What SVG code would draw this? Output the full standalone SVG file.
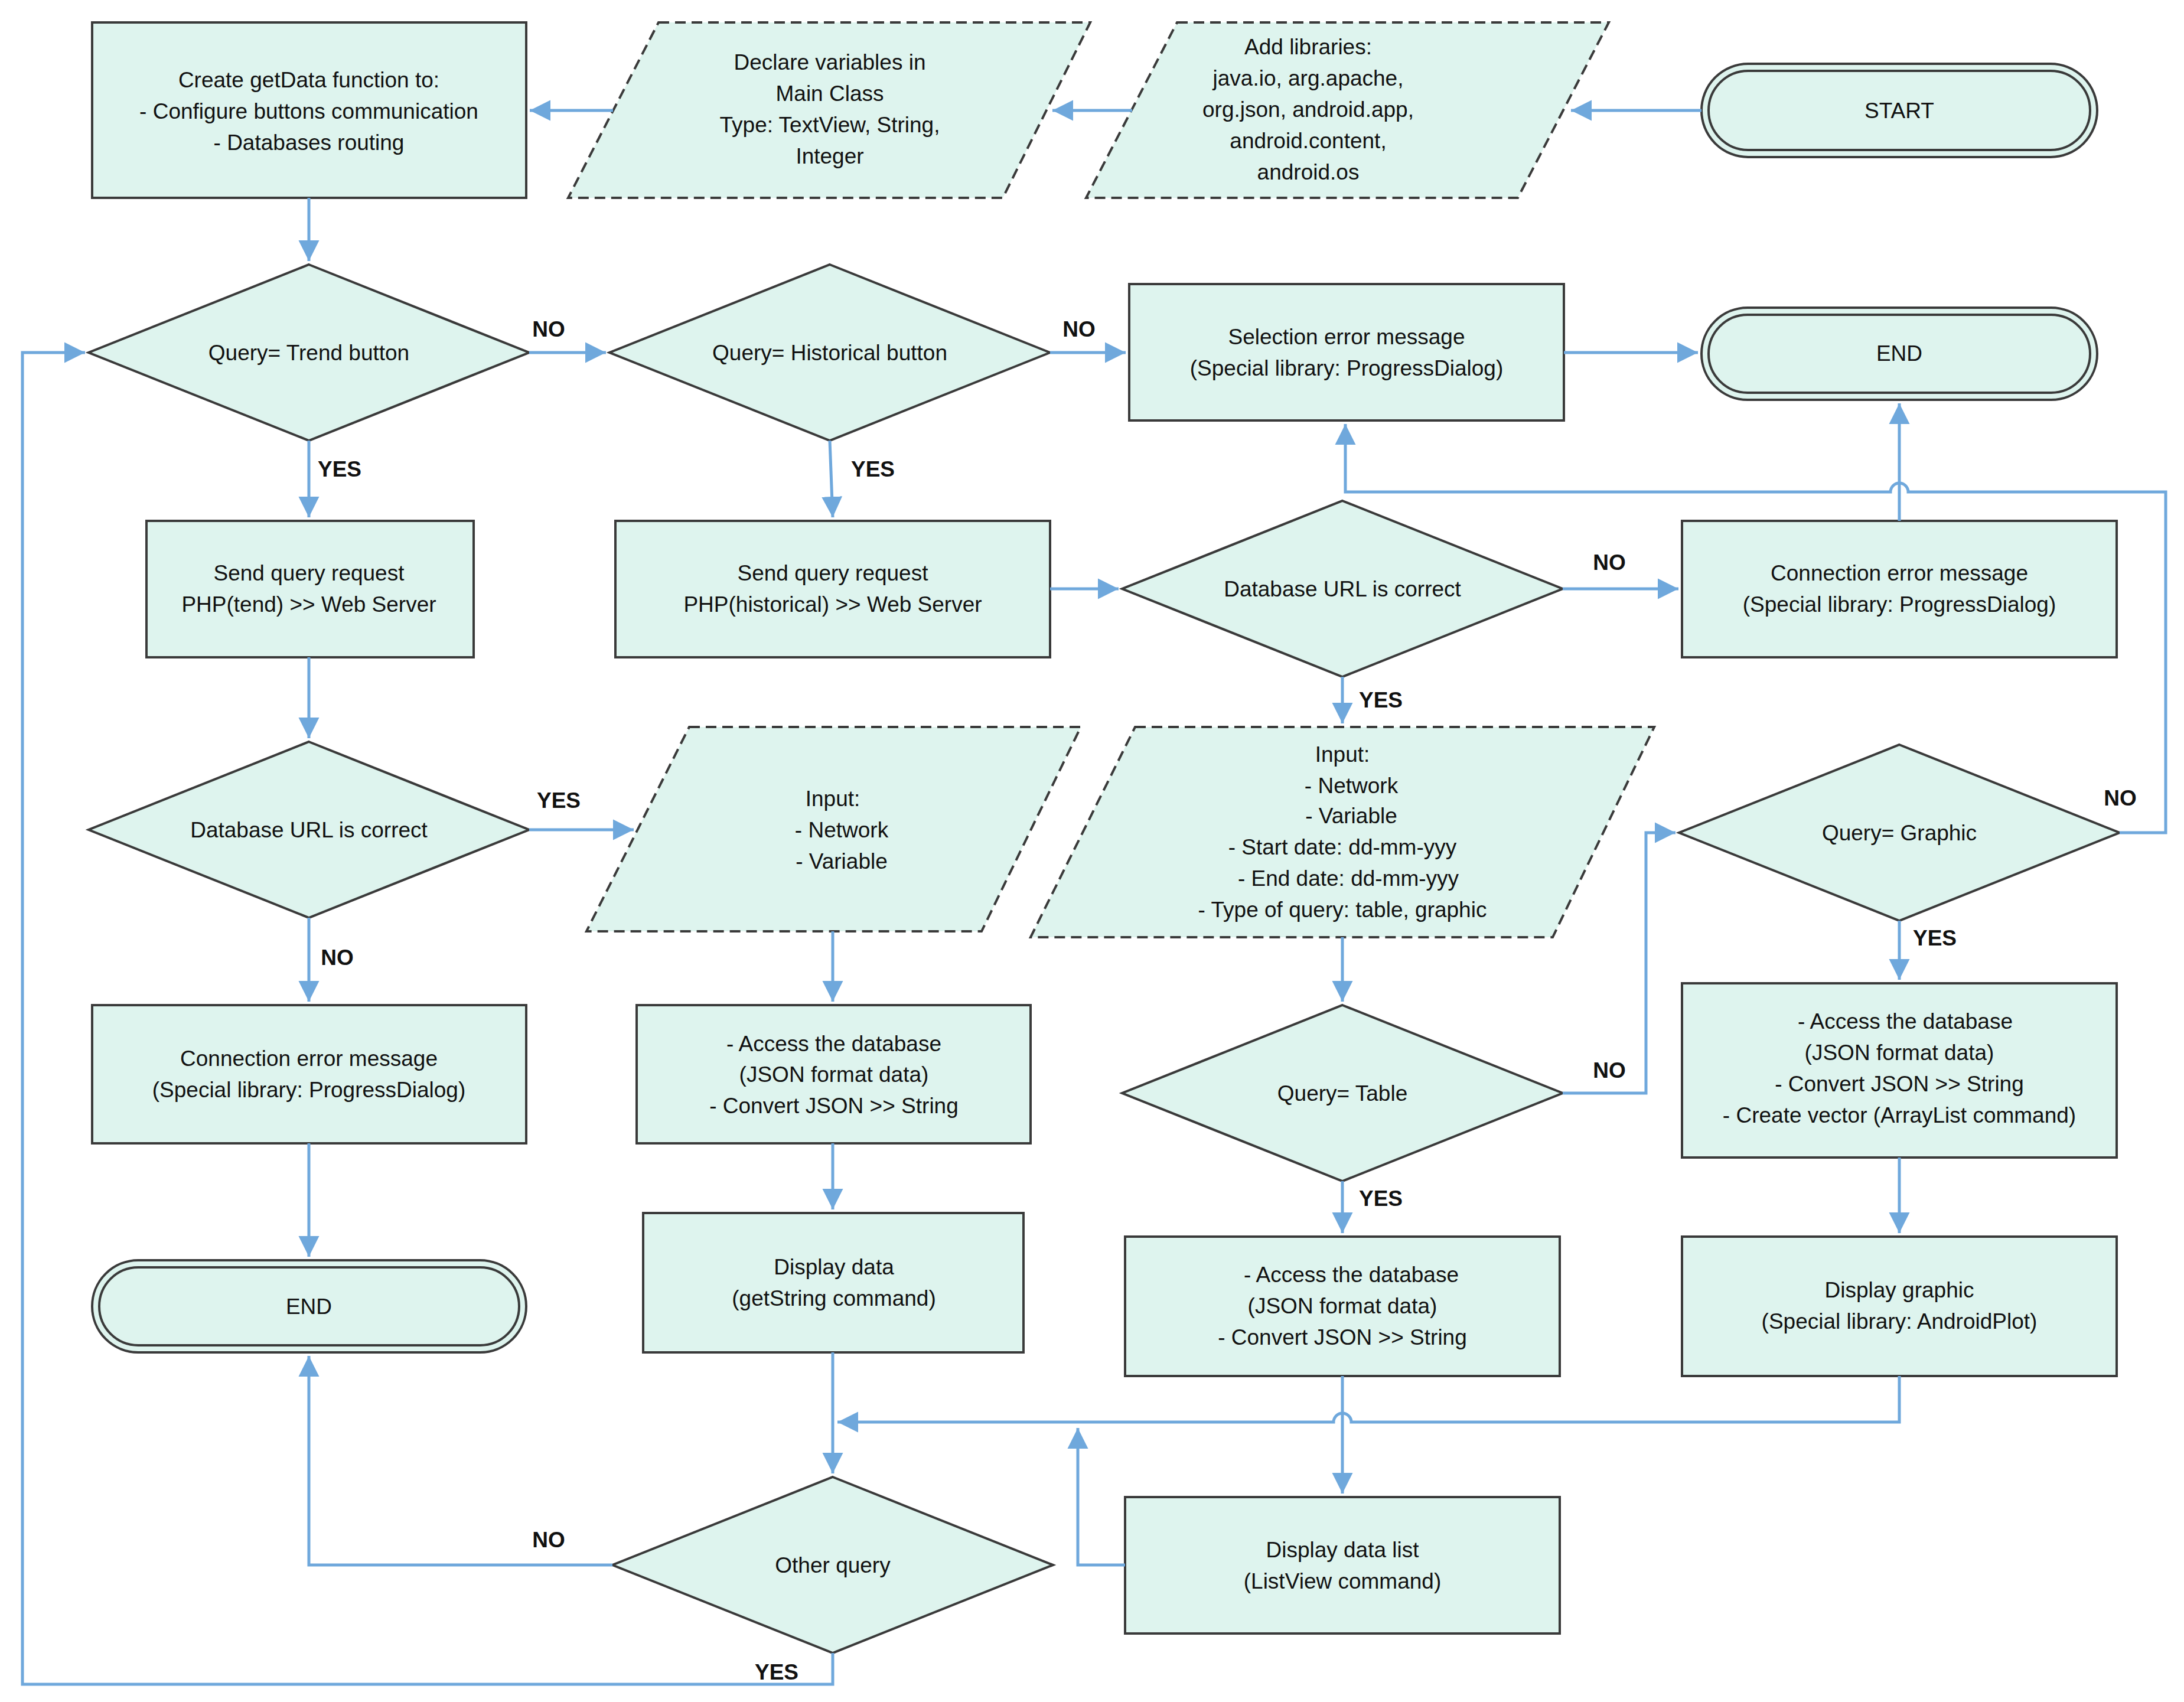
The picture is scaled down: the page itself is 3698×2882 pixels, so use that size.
<svg xmlns="http://www.w3.org/2000/svg" width="3698" height="2882" viewBox="0 0 3698 2882">
<defs>
<marker id="ah" markerWidth="8" markerHeight="8" refX="7" refY="4" orient="auto" markerUnits="strokeWidth"><path d="M0,0.5 L7,4 L0,7.5 z" fill="#6fa8dc"/></marker>
<style>
.n{fill:#def4ee;stroke:#3a3a3a;stroke-width:4}
.d{stroke-dasharray:18,10}
.t{font-family:"Liberation Sans",Arial,sans-serif;font-size:37px;fill:#111;text-anchor:middle}
.l{font-family:"Liberation Sans",Arial,sans-serif;font-size:37px;fill:#111;text-anchor:middle;font-weight:bold}
.c{fill:none;stroke:#6fa8dc;stroke-width:5;marker-end:url(#ah)}
.c2{fill:none;stroke:#6fa8dc;stroke-width:5}
</style>
</defs>
<rect width="3698" height="2882" fill="#fff"/>
<g id="getdata"><rect class="n" x="156" y="38" width="735" height="297"/><text class="t" x="523" y="148">Create getData function to:</text><text class="t" x="523" y="201">- Configure buttons communication</text><text class="t" x="523" y="254">- Databases routing</text></g>
<g id="declare"><polygon class="n d" points="1115,38 1846,38 1698,335 962,335"/><text class="t" x="1405" y="118">Declare variables in</text><text class="t" x="1405" y="171">Main Class</text><text class="t" x="1405" y="224">Type: TextView, String,</text><text class="t" x="1405" y="277">Integer</text></g>
<g id="libs"><polygon class="n d" points="1993,38 2724,38 2570,335 1839,335"/><text class="t" x="2215" y="92">Add libraries:</text><text class="t" x="2215" y="145">java.io, arg.apache,</text><text class="t" x="2215" y="198">org.json, android.app,</text><text class="t" x="2215" y="251">android.content,</text><text class="t" x="2215" y="304">android.os</text></g>
<g id="start"><rect class="n" x="2881" y="108" width="670" height="158" rx="79"/><rect x="2893" y="120" width="646" height="134" rx="67" fill="none" stroke="#3a3a3a" stroke-width="4"/><text class="t" x="3216" y="200">START</text></g>
<g id="qtrend"><polygon class="n" points="523,448 896,597 523,746 150,597"/><text class="t" x="523" y="610">Query= Trend button</text></g>
<g id="qhist"><polygon class="n" points="1405,448 1778,597 1405,746 1032,597"/><text class="t" x="1405" y="610">Query= Historical button</text></g>
<g id="selerr"><rect class="n" x="1912" y="481" width="736" height="231"/><text class="t" x="2280" y="583">Selection error message</text><text class="t" x="2280" y="636">(Special library: ProgressDialog)</text></g>
<g id="end1"><rect class="n" x="2881" y="521" width="670" height="156" rx="78"/><rect x="2893" y="533" width="646" height="132" rx="66" fill="none" stroke="#3a3a3a" stroke-width="4"/><text class="t" x="3216" y="611">END</text></g>
<g id="sendtrend"><rect class="n" x="248" y="882" width="554" height="231"/><text class="t" x="523" y="983">Send query request</text><text class="t" x="523" y="1036">PHP(tend)  &gt;&gt;  Web Server</text></g>
<g id="sendhist"><rect class="n" x="1042" y="882" width="736" height="231"/><text class="t" x="1410" y="983">Send query request</text><text class="t" x="1410" y="1036">PHP(historical)  &gt;&gt;  Web Server</text></g>
<g id="dburl2"><polygon class="n" points="2273,848 2646,997 2273,1146 1900,997"/><text class="t" x="2273" y="1010">Database URL is correct</text></g>
<g id="connerr2"><rect class="n" x="2848" y="882" width="736" height="231"/><text class="t" x="3216" y="983">Connection error message</text><text class="t" x="3216" y="1036">(Special library: ProgressDialog)</text></g>
<g id="dburl1"><polygon class="n" points="523,1256 896,1405 523,1554 150,1405"/><text class="t" x="523" y="1418">Database URL is correct</text></g>
<g id="input1"><polygon class="n d" points="1167,1231 1830,1231 1662,1577 993,1577"/><text class="t" x="1410" y="1365">Input:</text><text class="t" x="1425" y="1418">- Network</text><text class="t" x="1425" y="1471">- Variable</text></g>
<g id="input2"><polygon class="n d" points="1922,1231 2801,1231 2629,1587 1745,1587"/><text class="t" x="2273" y="1290">Input:</text><text class="t" x="2288" y="1343">- Network</text><text class="t" x="2288" y="1394">- Variable</text><text class="t" x="2273" y="1447">- Start date: dd-mm-yyy</text><text class="t" x="2283" y="1500">- End date: dd-mm-yyy</text><text class="t" x="2273" y="1553">- Type of query:  table, graphic</text></g>
<g id="qgraphic"><polygon class="n" points="3216,1261 3589,1410 3216,1559 2843,1410"/><text class="t" x="3216" y="1423">Query= Graphic</text></g>
<g id="connerr1"><rect class="n" x="156" y="1702" width="735" height="234"/><text class="t" x="523" y="1805">Connection error message</text><text class="t" x="523" y="1858">(Special library: ProgressDialog)</text></g>
<g id="access1"><rect class="n" x="1078" y="1702" width="667" height="234"/><text class="t" x="1412" y="1780">- Access the database</text><text class="t" x="1412" y="1832">(JSON format data)</text><text class="t" x="1412" y="1885">- Convert JSON &gt;&gt; String</text></g>
<g id="qtable"><polygon class="n" points="2273,1702 2646,1851 2273,2000 1900,1851"/><text class="t" x="2273" y="1864">Query= Table</text></g>
<g id="access3"><rect class="n" x="2848" y="1665" width="736" height="295"/><text class="t" x="3226" y="1742">- Access the database</text><text class="t" x="3216" y="1795">(JSON format data)</text><text class="t" x="3216" y="1848">- Convert JSON &gt;&gt; String</text><text class="t" x="3216" y="1901">- Create vector (ArrayList command)</text></g>
<g id="end2"><rect class="n" x="156" y="2134" width="735" height="156" rx="78"/><rect x="168" y="2146" width="711" height="132" rx="66" fill="none" stroke="#3a3a3a" stroke-width="4"/><text class="t" x="523" y="2225">END</text></g>
<g id="display1"><rect class="n" x="1089" y="2054" width="644" height="236"/><text class="t" x="1412" y="2158">Display data</text><text class="t" x="1412" y="2211">(getString  command)</text></g>
<g id="access2"><rect class="n" x="1905" y="2094" width="736" height="236"/><text class="t" x="2288" y="2171">- Access the database</text><text class="t" x="2273" y="2224">(JSON format data)</text><text class="t" x="2273" y="2277">- Convert JSON &gt;&gt; String</text></g>
<g id="displaygraphic"><rect class="n" x="2848" y="2094" width="736" height="236"/><text class="t" x="3216" y="2197">Display graphic</text><text class="t" x="3216" y="2250">(Special library: AndroidPlot)</text></g>
<g id="other"><polygon class="n" points="1410,2501 1783,2650 1410,2799 1037,2650"/><text class="t" x="1410" y="2663">Other query</text></g>
<g id="displaylist"><rect class="n" x="1905" y="2535" width="736" height="231"/><text class="t" x="2273" y="2637">Display data list</text><text class="t" x="2273" y="2690">(ListView command)</text></g>
<g id="connectors">
<path class="c" d="M2881,187 H2660"/>
<path class="c" d="M1917,187 H1782"/>
<path class="c" d="M1038,187 H897"/>
<path class="c" d="M523,335 V442"/>
<path class="c" d="M896,597 H1026"/>
<path class="c" d="M1778,597 H1906"/>
<path class="c" d="M2648,597 H2875"/>
<path class="c" d="M523,746 V876"/>
<path class="c" d="M1405,746 L1410,876"/>
<path class="c" d="M523,1113 V1250"/>
<path class="c" d="M1778,997 H1894"/>
<path class="c" d="M2646,997 H2842"/>
<path class="c" d="M2273,1146 V1225"/>
<path class="c" d="M3216,882 V683"/>
<path class="c" d="M3589,1410 H3667 V833 H3231 A15,15 0 0 0 3201,833 H2278 V718"/>
<path class="c" d="M896,1405 H1073"/>
<path class="c" d="M523,1554 V1696"/>
<path class="c" d="M523,1936 V2128"/>
<path class="c" d="M1410,1577 V1696"/>
<path class="c" d="M1410,1936 V2048"/>
<path class="c" d="M1410,2290 V2495"/>
<path class="c" d="M2273,1587 V1696"/>
<path class="c" d="M2646,1851 H2787 V1410 H2837"/>
<path class="c" d="M2273,2000 V2088"/>
<path class="c" d="M3216,1559 V1659"/>
<path class="c" d="M3216,1960 V2088"/>
<path class="c" d="M3216,2330 V2408 H2288 A15,15 0 0 0 2258,2408 H1418"/>
<path class="c" d="M2273,2330 V2529"/>
<path class="c" d="M1905,2650 H1825 V2418"/>
<path class="c" d="M1037,2650 H523 V2296"/>
<path class="c" d="M1410,2799 V2852 H38 V597 H144"/>
</g>
<g id="labels">
<text class="l" x="929" y="570">NO</text>
<text class="l" x="1827" y="570">NO</text>
<text class="l" x="575" y="807">YES</text>
<text class="l" x="1478" y="807">YES</text>
<text class="l" x="2725" y="965">NO</text>
<text class="l" x="2338" y="1198">YES</text>
<text class="l" x="3590" y="1364">NO</text>
<text class="l" x="946" y="1368">YES</text>
<text class="l" x="571" y="1634">NO</text>
<text class="l" x="2725" y="1825">NO</text>
<text class="l" x="2338" y="2042">YES</text>
<text class="l" x="3276" y="1601">YES</text>
<text class="l" x="929" y="2620">NO</text>
<text class="l" x="1315" y="2844">YES</text>
</g>
</svg>
